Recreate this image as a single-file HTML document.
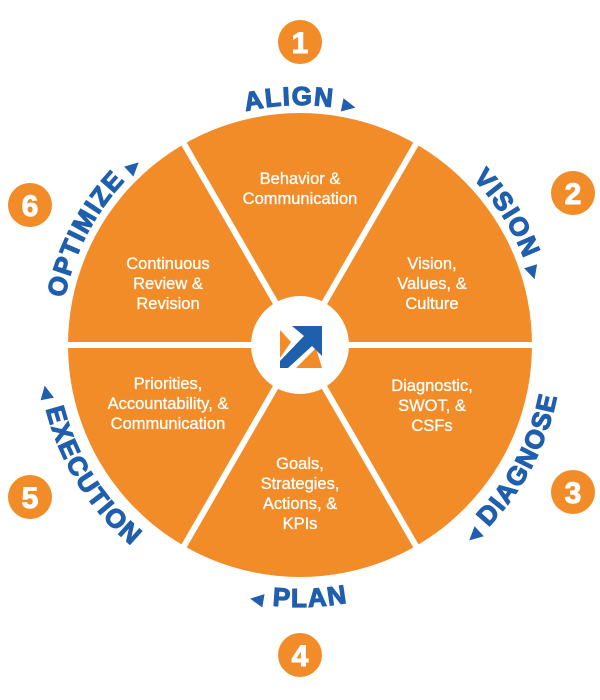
<!DOCTYPE html>
<html><head><meta charset="utf-8"><style>
html,body{margin:0;padding:0;background:#fff;}
svg{display:block;}
.w{font-family:"Liberation Sans",sans-serif;font-size:16.5px;fill:#fff;text-anchor:middle;stroke:#fff;stroke-width:0.3;}
.l{font-family:"Liberation Sans",sans-serif;font-size:26px;font-weight:bold;fill:#1f5fad;stroke:#1f5fad;stroke-width:1.2;letter-spacing:1.5px;}
.n{font-family:"Liberation Sans",sans-serif;font-size:30px;font-weight:bold;fill:#fff;stroke:#fff;stroke-width:1;text-anchor:middle;}
</style></head><body>
<svg width="600" height="700" viewBox="0 0 600 700" xmlns="http://www.w3.org/2000/svg">
<defs>
<path id="cw" d="M300,585 A240,240 0 1 1 300,105 A240,240 0 1 1 300,585"/>
<path id="ccw" d="M300,83 A262,262 0 1 0 300,607 A262,262 0 1 0 300,83"/>
</defs>
<circle cx="300" cy="345" r="232" fill="#f28c28"/>
<g stroke="#fff" stroke-width="6">
<line x1="300" y1="345" x2="540" y2="345"/>
<line x1="300" y1="345" x2="60" y2="345"/>
<line x1="300" y1="345" x2="420" y2="137"/>
<line x1="300" y1="345" x2="180" y2="137"/>
<line x1="300" y1="345" x2="420" y2="553"/>
<line x1="300" y1="345" x2="180" y2="553"/>
</g>
<circle cx="300" cy="345" r="49" fill="#fff"/>
<polygon points="280,330 291,342 280,358" fill="#f28c28"/>
<polygon points="296,368 316,348 322,368" fill="#f28c28"/>
<polygon points="292,326 322,326 322,356 312,346 288,368 280,368 280,361 304,336" fill="#1f5fad"/>
<text class="w"><tspan x="300" y="184">Behavior &amp;</tspan><tspan x="300" y="204">Communication</tspan></text>
<text class="w"><tspan x="432" y="269">Vision,</tspan><tspan x="432" y="289">Values, &amp;</tspan><tspan x="432" y="309">Culture</tspan></text>
<text class="w"><tspan x="432" y="391">Diagnostic,</tspan><tspan x="432" y="411">SWOT, &amp;</tspan><tspan x="432" y="431">CSFs</tspan></text>
<text class="w"><tspan x="300" y="469">Goals,</tspan><tspan x="300" y="489">Strategies,</tspan><tspan x="300" y="509">Actions, &amp;</tspan><tspan x="300" y="529">KPIs</tspan></text>
<text class="w"><tspan x="168" y="389">Priorities,</tspan><tspan x="168" y="409">Accountability, &amp;</tspan><tspan x="168" y="429">Communication</tspan></text>
<text class="w"><tspan x="168" y="269">Continuous</tspan><tspan x="168" y="289">Review &amp;</tspan><tspan x="168" y="309">Revision</tspan></text>
<text class="l"><textPath href="#cw" startOffset="50%" text-anchor="middle">ALIGN <tspan font-size="14">▶</tspan></textPath></text>
<text class="l"><textPath href="#cw" startOffset="33.3%" text-anchor="middle">OPTIMIZE <tspan font-size="14">▶</tspan></textPath></text>
<text class="l"><textPath href="#cw" startOffset="66.7%" text-anchor="middle">VISION <tspan font-size="14">▶</tspan></textPath></text>
<text class="l"><textPath href="#ccw" startOffset="50%" text-anchor="middle"><tspan font-size="14">◀</tspan> PLAN</textPath></text>
<text class="l"><textPath href="#ccw" startOffset="33.3%" text-anchor="middle"><tspan font-size="14">◀</tspan> EXECUTION</textPath></text>
<text class="l"><textPath href="#ccw" startOffset="66.7%" text-anchor="middle"><tspan font-size="14">◀</tspan> DIAGNOSE</textPath></text>
<g fill="#f28c28">
<circle cx="300" cy="42" r="22"/><circle cx="573" cy="193" r="22"/><circle cx="573" cy="492" r="22"/>
<circle cx="300" cy="655" r="22"/><circle cx="30" cy="497" r="22"/><circle cx="30" cy="205" r="22"/>
</g>
<text class="n" x="300" y="53">1</text><text class="n" x="573" y="204">2</text><text class="n" x="573" y="503">3</text>
<text class="n" x="300" y="666">4</text><text class="n" x="30" y="508">5</text><text class="n" x="30" y="216">6</text>
</svg>
</body></html>
